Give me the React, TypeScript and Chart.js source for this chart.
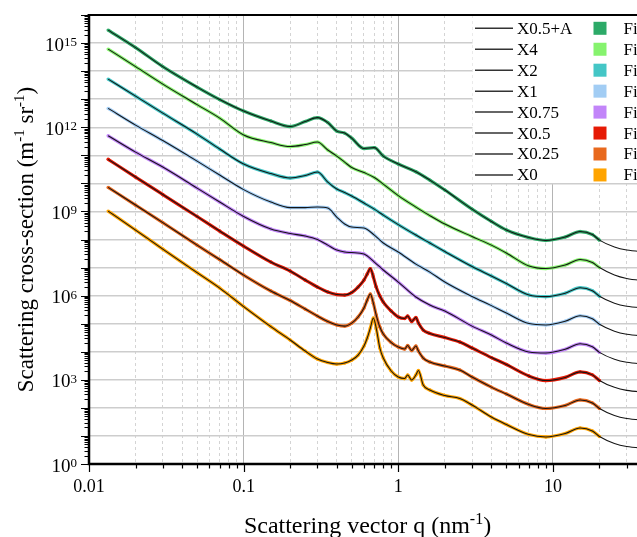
import React, { useEffect, useRef } from "react";
import { Chart, registerables } from "chart.js";

Chart.register(...registerables);

// ---------- data ----------
const qA = [0.0133, 0.02, 0.03, 0.05, 0.07, 0.1, 0.15, 0.2, 0.25, 0.3, 0.35, 0.4, 0.45, 0.5, 0.6, 0.7, 0.8, 1, 1.3, 1.6, 2, 3, 4, 5, 7, 9, 12, 15, 18, 20, 25, 30, 40];
const qB = [0.0133, 0.02, 0.03, 0.05, 0.07, 0.1, 0.15, 0.2, 0.25, 0.3, 0.35, 0.4, 0.45, 0.5, 0.55, 0.6, 0.63, 0.66, 0.69, 0.72, 0.76, 0.8, 0.9, 1, 1.1, 1.15, 1.22, 1.3, 1.35, 1.45, 1.6, 2, 2.5, 3, 4, 5, 7, 9, 12, 15, 18, 20, 25, 30, 40];

const iX05A = [2.9e15, 6.9e14, 1.45e14, 2.7e13, 9.7e12, 3.77e12, 1.66e12, 1.06e12, 1.6e12, 2.2e12, 1.47e12, 7.3e11, 6.2e11, 4.1e11, 1.74e11, 1.88e11, 9.4e10, 4.9e10, 2.6e10, 1.31e10, 5.8e9, 1.21e9, 4.4e8, 2.17e8, 1.17e8, 9.2e7, 1.22e8, 1.92e8, 1.5e8, 9.5e7, 5.4e7, 4.2e7, 3.6e7];
const iX4 = [6.1e14, 1.45e14, 3.45e13, 6.4e12, 2.12e12, 5.3e11, 2.84e11, 2.05e11, 2.41e11, 2.96e11, 1.54e11, 9.4e10, 5.7e10, 3.66e10, 2.43e10, 1.61e10, 9.4e9, 3.67e9, 1.43e9, 7.1e8, 3.55e8, 1.27e8, 6.3e7, 3.29e7, 1.13e7, 9.2e6, 1.23e7, 1.93e7, 1.51e7, 1.0e7, 5.4e6, 4.06e6, 3.3e6];
const iX2 = [5.2e13, 1.29e13, 3.19e12, 5.7e11, 1.67e11, 4.9e10, 2.23e10, 1.55e10, 1.9e10, 2.53e10, 1.11e10, 6.3e9, 4.7e9, 3.53e9, 1.99e9, 1.21e9, 7.4e8, 3.4e8, 1.44e8, 7.5e7, 3.72e7, 1.09e7, 4.99e6, 2.69e6, 1.05e6, 9.2e5, 1.22e6, 1.92e6, 1.5e6, 9.5e5, 5.4e5, 4.2e5, 3.6e5];
const iX1 = [4.7e12, 1.19e12, 3.35e11, 6.2e10, 1.98e10, 6.0e9, 2.16e9, 1.37e9, 1.37e9, 1.43e9, 1.32e9, 6.3e8, 3.55e8, 2.77e8, 2.56e8, 1.44e8, 7.5e7, 3.57e7, 1.33e7, 6.9e6, 3.05e6, 9.3e5, 4.4e5, 2.4e5, 1.01e5, 9.0e4, 1.22e5, 1.92e5, 1.5e5, 9.5e4, 5.4e4, 4.2e4, 3.6e4];
const iX075 = [4.97e11, 1.3e11, 3.81e10, 6.8e9, 2.16e9, 6.6e8, 2.36e8, 1.63e8, 1.33e8, 9.95e7, 6.3e7, 4.2e7, 3.57e7, 3.43e7, 3.03e7, 1.57e7, 8.2e6, 3.05e6, 8.9e5, 4.6e5, 2.82e5, 8.2e4, 3.94e4, 2.05e4, 9.8e3, 9.0e3, 1.22e4, 1.92e4, 1.5e4, 9.5e3, 5.4e3, 4.2e3, 3.6e3];
const iX05 = [7.2e10, 1.68e10, 4.0e9, 6.6e8, 2.0e8, 5.8e7, 1.57e7, 7.5e6, 3.59e6, 2.02e6, 1.34e6, 1.09e6, 1.05e6, 1.29e6, 2.02e6, 3.59e6, 5.9e6, 9.2e6, 4.6e6, 2.02e6, 9.7e5, 5.9e5, 2.82e5, 1.73e5, 1.53e5, 1.87e5, 1.19e5, 1.66e5, 1.05e5, 5.9e4, 4.5e4, 3.21e4, 2.22e4, 1.36e4, 6.2e3, 3.5e3, 1.36e3, 9.4e2, 1.22e3, 1.92e3, 1.5e3, 9.5e2, 5.4e2, 4.2e2, 3.6e2];
const iX025 = [7.2e9, 1.69e9, 4.0e8, 6.3e7, 1.93e7, 5.4e6, 1.46e6, 6.7e5, 3.33e5, 1.87e5, 1.19e5, 9.0e4, 8.2e4, 1.05e5, 1.73e5, 3.61e5, 6.97e5, 1.14e6, 5.4e5, 2.03e5, 7.6e4, 4.28e4, 2.13e4, 1.47e4, 1.25e4, 1.67e4, 1.1e4, 1.6e4, 1.06e4, 5.97e3, 4.3e3, 3.1e3, 2.23e3, 1.26e3, 5.5e2, 3.12e2, 1.32e2, 95, 122, 192, 150, 95, 54, 42, 36];
const iX0 = [1.03e9, 2.17e8, 4.56e7, 6.6e6, 1.86e6, 4.08e5, 7.85e4, 2.62e4, 1.06e4, 5.5e3, 4.13e3, 3.65e3, 3.96e3, 5.07e3, 7.6e3, 1.6e4, 3.08e4, 7.0e4, 1.59e5, 7.0e4, 1.36e4, 5.97e3, 2.06e3, 1.26e3, 1.11e3, 1.48e3, 9.8e2, 1.48e3, 2.14e3, 6.5e2, 4.33e2, 2.76e2, 2.15e2, 1.26e2, 47, 25.5, 11.2, 9.2, 12.2, 19.2, 15, 9.5, 5.4, 4.2, 3.6];

const seriesNames = ["X0.5+A", "X4", "X2", "X1", "X0.75", "X0.5", "X0.25", "X0"];
const seriesColors = ["#2DAA68", "#86F36E", "#44C6C6", "#A2CDF4", "#C285F9", "#E61A05", "#E8691E", "#FFA400"];
const seriesQ = [qA, qA, qA, qA, qA, qB, qB, qB];
const seriesI = [iX05A, iX4, iX2, iX1, iX075, iX05, iX025, iX0];
const dataMaxQ = 20;

const xMin = 0.01;
const xMax = 40;
const yMin = 1;
const yMax = 1e16;
const xTickLabels = ["0.01", "0.1", "1", "10"];
const yLabelExponents = [0, 3, 6, 9, 12, 15];
const legendFitLabel = "Fit";
const xTitle = [
  { t: "Scattering vector q (nm", sup: false },
  { t: "-1", sup: true },
  { t: ")", sup: false },
];
const yTitle = [
  { t: "Scattering cross-section (m", sup: false },
  { t: "-1", sup: true },
  { t: " sr", sup: false },
  { t: "-1", sup: true },
  { t: ")", sup: false },
];

// ---------- layout ----------
const W_VIEW = 637;
const H_VIEW = 537;
const CANVAS_W = 700;
const PLOT_LEFT = 89;
const PLOT_TOP = 15;
const PLOT_BOTTOM = 464;
const PLOT_RIGHT = 646;
const SERIF = "'Liberation Serif', 'Times New Roman', Times, serif";

type Seg = { t: string; sup: boolean };

function drawRich(ctx: CanvasRenderingContext2D, segs: Seg[], x: number, y: number, size: number, supSize: number, rise: number, align: "left" | "center" | "right") {
  const widths = segs.map((s) => {
    ctx.font = `${s.sup ? supSize : size}px ${SERIF}`;
    return ctx.measureText(s.t).width;
  });
  const total = widths.reduce((a, b) => a + b, 0);
  let cx = align === "center" ? x - total / 2 : align === "right" ? x - total : x;
  ctx.textAlign = "left";
  ctx.textBaseline = "alphabetic";
  segs.forEach((s, i) => {
    ctx.font = `${s.sup ? supSize : size}px ${SERIF}`;
    ctx.fillText(s.t, cx, s.sup ? y - rise : y);
    cx += widths[i];
  });
}

function isDecade(v: number) {
  const l = Math.log10(v);
  return Math.abs(l - Math.round(l)) < 1e-6;
}

const LEGEND_LEFT = 472.5;
const LEGEND_BOTTOM = 183;

const decorPlugin = {
  id: "decor",
  beforeDatasetsDraw(chart: any) {
    const ctx: CanvasRenderingContext2D = chart.ctx;
    ctx.save();
    ctx.fillStyle = "#ffffff";
    ctx.fillRect(LEGEND_LEFT, chart.chartArea.top, chart.width - LEGEND_LEFT, LEGEND_BOTTOM - chart.chartArea.top);
    ctx.restore();
  },
  afterDraw(chart: any) {
    const ctx: CanvasRenderingContext2D = chart.ctx;
    const xs = chart.scales.x;
    const ys = chart.scales.y;
    const { left, right, top, bottom } = chart.chartArea;
    ctx.save();
    ctx.strokeStyle = "#000";
    ctx.fillStyle = "#000";

    // y ticks
    ctx.lineWidth = 1.2;
    ctx.beginPath();
    for (let e = 0; e <= 16; e++) {
      for (let k = 1; k <= 9; k++) {
        const v = k * Math.pow(10, e);
        if (v > yMax) continue;
        const py = Math.round(ys.getPixelForValue(v)) + 0.5;
        const len = k === 1 ? 8 : 4.5;
        ctx.moveTo(left - len, py);
        ctx.lineTo(left, py);
      }
    }
    // x ticks
    for (let n = -2; n <= 1; n++) {
      for (let k = 1; k <= 9; k++) {
        const v = k * Math.pow(10, n);
        if (v > xMax) continue;
        const px = Math.round(xs.getPixelForValue(v)) + 0.5;
        const len = k === 1 ? 8 : 4.5;
        ctx.moveTo(px, bottom);
        ctx.lineTo(px, bottom + len);
      }
    }
    ctx.stroke();

    // axis lines
    ctx.lineWidth = 2.5;
    ctx.beginPath();
    ctx.moveTo(left, top - 1);
    ctx.lineTo(left, bottom + 1.25);
    ctx.moveTo(left - 1.25, bottom);
    ctx.lineTo(right, bottom);
    ctx.stroke();
    ctx.lineWidth = 2;
    ctx.beginPath();
    ctx.moveTo(left - 1.25, top);
    ctx.lineTo(chart.width, top);
    ctx.stroke();

    // y tick labels 10^n
    yLabelExponents.forEach((e) => {
      const py = ys.getPixelForValue(Math.pow(10, e));
      drawRich(ctx, [{ t: "10", sup: false }, { t: String(e), sup: true }], 77, py + 7.5, 19, 13, 4.5, "right");
    });

    // axis titles
    drawRich(ctx, xTitle, (left + right) / 2, 533, 24, 16, 9, "center");
    ctx.save();
    ctx.translate(33, (top + bottom) / 2);
    ctx.rotate(-Math.PI / 2);
    drawRich(ctx, yTitle, 0, 0, 23, 15, 9, "center");
    ctx.restore();

    // legend
    const rowY0 = 28.3;
    const rowH = 20.95;
    seriesNames.forEach((name, i) => {
      const y = rowY0 + i * rowH;
      ctx.strokeStyle = "#333";
      ctx.lineWidth = 1.5;
      ctx.beginPath();
      ctx.moveTo(475, y);
      ctx.lineTo(513, y);
      ctx.stroke();
      ctx.font = `17px ${SERIF}`;
      ctx.textAlign = "left";
      ctx.textBaseline = "middle";
      ctx.fillStyle = "#000";
      ctx.fillText(name, 517, y + 1);
      ctx.fillStyle = seriesColors[i];
      ctx.fillRect(593.5, y - 6.5, 13, 13);
      ctx.fillStyle = "#000";
      ctx.fillText(legendFitLabel, 623.5, y + 1);
    });
    ctx.restore();
  },
};

export default function App() {
  const ref = useRef<HTMLCanvasElement | null>(null);

  useEffect(() => {
    const canvas = ref.current;
    if (!canvas) return;
    const dataSets: any[] = [];
    seriesNames.forEach((name, i) => {
      const pts = seriesQ[i].map((q, j) => ({ x: q, y: seriesI[i][j] }));
      dataSets.push({
        label: name + " fit",
        data: pts,
        borderColor: "#151515",
        borderWidth: 1.05,
        pointRadius: 0,
        cubicInterpolationMode: "monotone",
        order: 1,
      });
      dataSets.push({
        label: name,
        data: pts.filter((p) => p.x <= dataMaxQ),
        borderColor: seriesColors[i],
        backgroundColor: seriesColors[i],
        borderWidth: 3.2,
        pointRadius: 1.7,
        pointBorderWidth: 0,
        cubicInterpolationMode: "monotone",
        order: 2,
      });
    });

    const chart = new Chart(canvas, {
      type: "line",
      data: { datasets: dataSets },
      options: {
        animation: false,
        responsive: false,
        maintainAspectRatio: false,
        devicePixelRatio: 1,
        events: [],
        layout: { padding: { top: PLOT_TOP, right: CANVAS_W - PLOT_RIGHT, left: 0, bottom: 0 } },
        plugins: { legend: { display: false }, tooltip: { enabled: false }, title: { display: false } },
        scales: {
          x: {
            type: "logarithmic",
            position: "bottom",
            min: xMin,
            max: xMax,
            afterBuildTicks: (scale: any) => {
              const t: any[] = [];
              for (let n = -2; n <= 1; n++) for (let k = 1; k <= 9; k++) {
                const v = k * Math.pow(10, n);
                if (v >= xMin - 1e-12 && v <= xMax) t.push({ value: v });
              }
              scale.ticks = t;
            },
            afterFit: (scale: any) => { scale.height = H_VIEW - PLOT_BOTTOM; },
            ticks: {
              autoSkip: false,
              maxRotation: 0,
              padding: 12,
              color: "#000",
              font: { family: SERIF, size: 18 },
              callback: (v: any) => {
                const val = Number(v);
                if (!isDecade(val)) return "";
                const idx = Math.round(Math.log10(val)) + 2;
                return xTickLabels[idx] ?? "";
              },
            },
            grid: {
              drawTicks: false,
              color: (c: any) => (c.tick && isDecade(c.tick.value) ? "#b4b4b4" : "#d4d4d4"),
              lineWidth: 1,
            },
            border: {
              display: false,
              dash: (c: any) => (c.tick && isDecade(c.tick.value) ? [] : [3, 3]),
            },
          },
          y: {
            type: "logarithmic",
            position: "left",
            min: yMin,
            max: yMax,
            afterBuildTicks: (scale: any) => {
              const t: any[] = [];
              for (let e = 0; e <= 16; e++) t.push({ value: Math.pow(10, e) });
              scale.ticks = t;
            },
            afterFit: (scale: any) => { scale.width = PLOT_LEFT; },
            ticks: { display: false },
            grid: { drawTicks: false, color: "#cdcdcd", lineWidth: 1.5 },
            border: { display: false },
          },
        },
      },
      plugins: [decorPlugin],
    });
    return () => chart.destroy();
  }, []);

  return (
    <div style={{ position: "fixed", left: 0, top: 0, width: W_VIEW, height: H_VIEW, overflow: "hidden", background: "#fff" }}>
      <canvas ref={ref} width={CANVAS_W} height={H_VIEW} style={{ width: CANVAS_W, height: H_VIEW, display: "block" }} />
    </div>
  );
}
